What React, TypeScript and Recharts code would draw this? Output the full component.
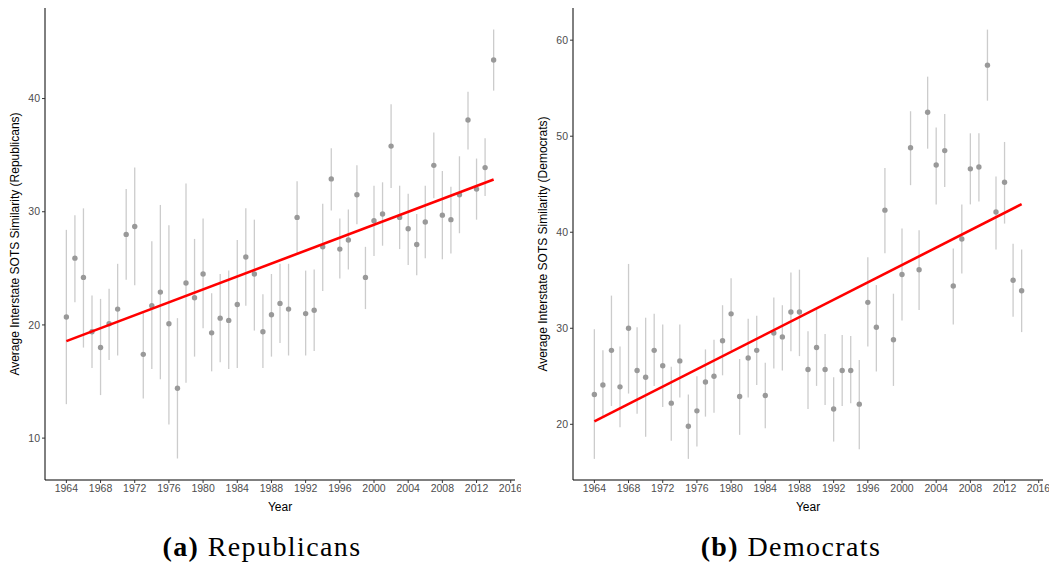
import {
  ErrorBar,
  Scatter,
  ScatterChart,
  XAxis,
  YAxis,
} from "recharts";

const years = [
  1964, 1965, 1966, 1967, 1968, 1969, 1970, 1971, 1972, 1973, 1974, 1975, 1976,
  1977, 1978, 1979, 1980, 1981, 1982, 1983, 1984, 1985, 1986, 1987, 1988, 1989,
  1990, 1991, 1992, 1993, 1994, 1995, 1996, 1997, 1998, 1999, 2000, 2001, 2002,
  2003, 2004, 2005, 2006, 2007, 2008, 2009, 2010, 2011, 2012, 2013, 2014,
];

const repMean = [
  20.7, 25.9, 24.2, 19.4, 18.0, 20.1, 21.4, 28.0, 28.7, 17.4, 21.7, 22.9, 20.1,
  14.4, 23.7, 22.4, 24.5, 19.3, 20.6, 20.4, 21.8, 26.0, 24.5, 19.4, 20.9, 21.9,
  21.4, 29.5, 21.0, 21.3, 26.9, 32.9, 26.7, 27.5, 31.5, 24.2, 29.2, 29.8, 35.8,
  29.5, 28.5, 27.1, 29.1, 34.1, 29.7, 29.3, 31.5, 38.1, 32.0, 33.9, 43.4,
];
const repLow = [
  13.0, 22.0, 18.0, 16.2, 13.8, 16.9, 17.3, 24.0, 23.5, 13.5, 16.1, 15.2, 11.2,
  8.2, 14.9, 17.2, 19.7, 15.9, 16.7, 16.1, 16.2, 21.7, 19.5, 16.2, 17.2, 18.4,
  17.3, 26.3, 17.3, 17.7, 23.0, 30.1, 24.1, 24.9, 28.9, 21.4, 26.1, 27.0, 32.1,
  26.7, 25.3, 24.4, 25.9, 31.2, 25.8, 26.3, 28.1, 35.5, 29.3, 31.4, 40.7,
];
const repHigh = [
  28.4, 29.7, 30.3, 22.6, 22.3, 23.2, 25.4, 32.0, 33.9, 21.1, 27.4, 30.6, 28.8,
  20.6, 32.5, 27.6, 29.4, 22.8, 24.5, 24.8, 27.5, 30.3, 29.3, 22.7, 24.5, 25.4,
  25.4, 32.7, 24.8, 24.9, 30.7, 35.6, 29.4, 30.2, 34.1, 26.9, 32.3, 32.6, 39.5,
  32.3, 31.6, 29.8, 32.3, 37.0, 33.6, 32.2, 34.9, 40.6, 34.7, 36.5, 46.1,
];
const repFit = [18.57, 32.85];

const demMean = [
  23.1, 24.1, 27.7, 23.9, 30.0, 25.6, 24.9, 27.7, 26.1, 22.2, 26.6, 19.8, 21.4,
  24.4, 25.0, 28.7, 31.5, 22.9, 26.9, 27.7, 23.0, 29.5, 29.1, 31.7, 31.7, 25.7,
  28.0, 25.7, 21.6, 25.6, 25.6, 22.1, 32.7, 30.1, 42.3, 28.8, 35.6, 48.8, 36.1,
  52.5, 47.0, 48.5, 34.4, 39.3, 46.6, 46.8, 57.4, 42.1, 45.2, 35.0, 33.9,
];
const demLow = [
  16.4, 20.8, 21.9, 19.7, 23.2, 21.1, 18.7, 24.0, 21.8, 18.3, 22.8, 16.4, 17.7,
  20.8, 21.2, 25.1, 27.7, 18.9, 22.8, 24.1, 19.6, 25.8, 25.6, 27.6, 27.1, 21.6,
  24.0, 22.0, 18.2, 21.9, 22.2, 17.4, 28.1, 25.5, 37.8, 24.0, 30.8, 44.9, 31.9,
  48.7, 42.9, 44.7, 30.4, 35.7, 42.9, 43.2, 53.7, 38.2, 40.9, 31.2, 29.6,
];
const demHigh = [
  29.9, 27.7, 33.4, 28.1, 36.7, 30.1, 31.1, 31.5, 30.4, 26.0, 30.4, 23.1, 25.0,
  27.8, 28.8, 32.4, 35.2, 26.8, 31.0, 31.3, 26.4, 33.2, 32.4, 35.8, 36.1, 29.7,
  32.0, 29.4, 24.9, 29.3, 29.2, 26.7, 37.4, 34.5, 46.7, 33.6, 40.4, 52.6, 40.2,
  56.2, 50.9, 52.3, 38.3, 42.9, 50.3, 50.3, 61.1, 45.8, 49.4, 38.8, 38.2,
];
const demFit = [20.31, 42.92];

const fitYears = [1964, 2014];
const yearTicks = [
  1964, 1968, 1972, 1976, 1980, 1984, 1988, 1992, 1996, 2000, 2004, 2008, 2012,
  2016,
];
const repTicks = [10, 20, 30, 40];
const demTicks = [20, 30, 40, 50, 60];

const font = "'Liberation Sans', Arial, Helvetica, sans-serif";

const buildPoints = (mean: number[], low: number[], high: number[]) =>
  years.map((year, i) => ({
    year,
    v: mean[i],
    err: [mean[i] - low[i], high[i] - mean[i]],
  }));

const buildFit = (fit: number[]) =>
  fitYears.map((year, i) => ({ year, v: fit[i] }));

const Dot = (props: any) => (
  <circle cx={props.cx} cy={props.cy} r={2.7} fill="#999999" />
);

const Panel = ({
  mean,
  low,
  high,
  fit,
  domain,
  ticks,
  ylabel,
}: {
  mean: number[];
  low: number[];
  high: number[];
  fit: number[];
  domain: [number, number];
  ticks: number[];
  ylabel: string;
}) => (
  <ScatterChart
    width={521}
    height={516}
    margin={{ top: 8, right: 6, left: 0, bottom: 0 }}
    style={{ fontFamily: font }}
  >
    <XAxis
      type="number"
      dataKey="year"
      domain={[1961.5, 2016.5]}
      ticks={yearTicks}
      height={36}
      tickSize={3}
      tick={{ fontSize: 10.5, fill: "#4d4d4d" }}
      tickLine={{ stroke: "#333333" }}
      axisLine={{ stroke: "#000000" }}
      label={{
        value: "Year",
        position: "insideBottom",
        offset: 5,
        style: { fontSize: 12, fill: "#000000" },
      }}
    />
    <YAxis
      type="number"
      dataKey="v"
      domain={domain}
      ticks={ticks}
      width={45}
      tickSize={3}
      tick={{ fontSize: 10.5, fill: "#4d4d4d" }}
      tickLine={{ stroke: "#333333" }}
      axisLine={{ stroke: "#000000" }}
      label={{
        value: ylabel,
        angle: -90,
        position: "insideLeft",
        offset: 15,
        style: { fontSize: 12, fill: "#000000", textAnchor: "middle" },
      }}
    />
    <Scatter
      data={buildPoints(mean, low, high)}
      shape={Dot}
      isAnimationActive={false}
    >
      <ErrorBar
        dataKey="err"
        direction="y"
        width={0}
        stroke="#cccccc"
        strokeWidth={1.3}
      />
    </Scatter>
    <Scatter
      data={buildFit(fit)}
      line={{ stroke: "#ff0000", strokeWidth: 2.6 }}
      shape={() => <g />}
      isAnimationActive={false}
    />
  </ScatterChart>
);

const captionStyle: React.CSSProperties = {
  position: "absolute",
  top: 531,
  fontFamily: "'Liberation Serif', 'Times New Roman', serif",
  fontSize: 28,
  letterSpacing: 1.4,
  lineHeight: "32px",
  textAlign: "center",
  width: 320,
};

export default function App() {
  return (
    <div
      style={{
        position: "absolute",
        left: 0,
        top: 0,
        width: 1049,
        height: 566,
        background: "#ffffff",
      }}
    >
      <div style={{ position: "absolute", left: 0, top: 0 }}>
        <Panel
          mean={repMean}
          low={repLow}
          high={repHigh}
          fit={repFit}
          domain={[6.3, 48]}
          ticks={repTicks}
          ylabel="Average Interstate SOTS Similarity (Republicans)"
        />
      </div>
      <div style={{ position: "absolute", left: 528, top: 0 }}>
        <Panel
          mean={demMean}
          low={demLow}
          high={demHigh}
          fit={demFit}
          domain={[14.2, 63.35]}
          ticks={demTicks}
          ylabel="Average Interstate SOTS Similarity (Democrats)"
        />
      </div>
      <div style={{ ...captionStyle, left: 102 }}>
        <b>(a)</b> Republicans
      </div>
      <div style={{ ...captionStyle, left: 631 }}>
        <b>(b)</b> Democrats
      </div>
    </div>
  );
}
